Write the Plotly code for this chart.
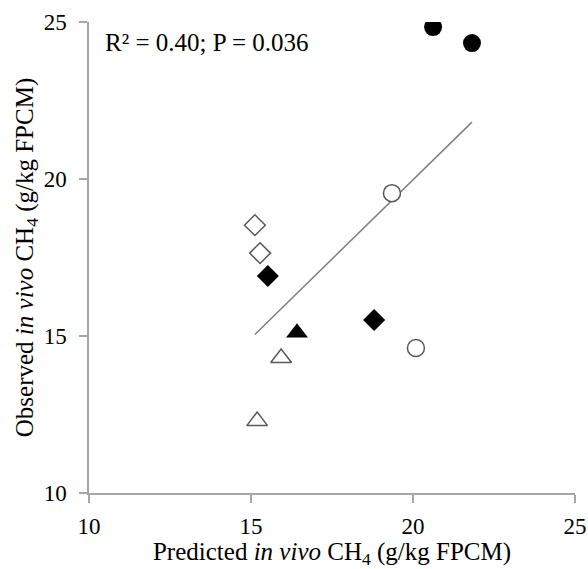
import numpy as np
import plotly.graph_objects as go

# Data (predicted x, observed y)
filled_circle_x = [20.62, 21.82]
filled_circle_y = [24.84, 24.33]
open_circle_x = [19.35, 20.09]
open_circle_y = [19.55, 14.62]
open_diamond_x = [15.12, 15.28]
open_diamond_y = [18.53, 17.64]
filled_diamond_x = [15.52, 18.80]
filled_diamond_y = [16.91, 15.51]
filled_triangle_x = [16.42]
filled_triangle_y = [15.10]
open_triangle_x = [15.93, 15.19]
open_triangle_y = [14.30, 12.29]

tick_vals = [10, 15, 20, 25]
annotation_text = "R\u00b2 = 0.40; P = 0.036"
x_title = "Predicted <i>in vivo</i> CH<sub>4</sub> (g/kg FPCM)"
y_title = "Observed <i>in vivo</i> CH<sub>4</sub> (g/kg FPCM)"

all_x = np.array(filled_circle_x + open_circle_x + open_diamond_x + filled_diamond_x
                 + filled_triangle_x + open_triangle_x)
all_y = np.array(filled_circle_y + open_circle_y + open_diamond_y + filled_diamond_y
                 + filled_triangle_y + open_triangle_y)
slope, intercept = np.polyfit(all_x, all_y, 1)
line_x = np.array([all_x.min(), all_x.max()])
line_y = slope * line_x + intercept

FONT = "Liberation Serif, Times New Roman, serif"
GRAY = "#595959"

fig = go.Figure()
fig.add_trace(go.Scatter(x=line_x, y=line_y, mode="lines",
                         line=dict(color="#7f7f7f", width=1.5), hoverinfo="skip"))

def add(xs, ys, symbol, size, filled):
    fig.add_trace(go.Scatter(
        x=xs, y=ys, mode="markers",
        marker=dict(symbol=symbol, size=size,
                    color="black" if filled else "white",
                    line=dict(color="black" if filled else GRAY, width=0 if filled else 1.5))))

add(filled_circle_x, filled_circle_y, "circle", 18, True)
add(open_circle_x, open_circle_y, "circle", 17, False)
add(open_diamond_x, open_diamond_y, "diamond", 16, False)
add(filled_diamond_x, filled_diamond_y, "diamond", 17, True)
add(filled_triangle_x, filled_triangle_y, "triangle-up", 19, True)
add(open_triangle_x, open_triangle_y, "triangle-up", 18, False)

fig.add_annotation(x=10.43, y=24.36, xref="x", yref="y", text=annotation_text,
                   showarrow=False, xanchor="left", yanchor="middle",
                   font=dict(family=FONT, size=25, color="black"))

axis_common = dict(range=[10, 25], tickvals=tick_vals, showgrid=False, zeroline=False,
                   showline=True, linecolor="#a6a6a6", linewidth=1.5,
                   ticks="outside", ticklen=8, tickcolor="#a6a6a6", tickwidth=1.5,
                   automargin=False,
                   tickfont=dict(family=FONT, size=23, color="black"))

fig.update_layout(
    width=588, height=569,
    margin=dict(l=89, r=13, t=22, b=76),
    plot_bgcolor="white", paper_bgcolor="white",
    showlegend=False,
    xaxis=dict(**axis_common, ticklabelstandoff=4,
               title=dict(text=x_title, font=dict(family=FONT, size=25, color="black"),
                          standoff=0)),
    yaxis=dict(**axis_common, ticklabelstandoff=8,
               title=dict(text=y_title, font=dict(family=FONT, size=25, color="black"),
                          standoff=3)),
)

fig.write_html("out.html", config={"displayModeBar": False},
               post_script="document.body.style.margin='0';document.body.style.overflow='hidden';")
